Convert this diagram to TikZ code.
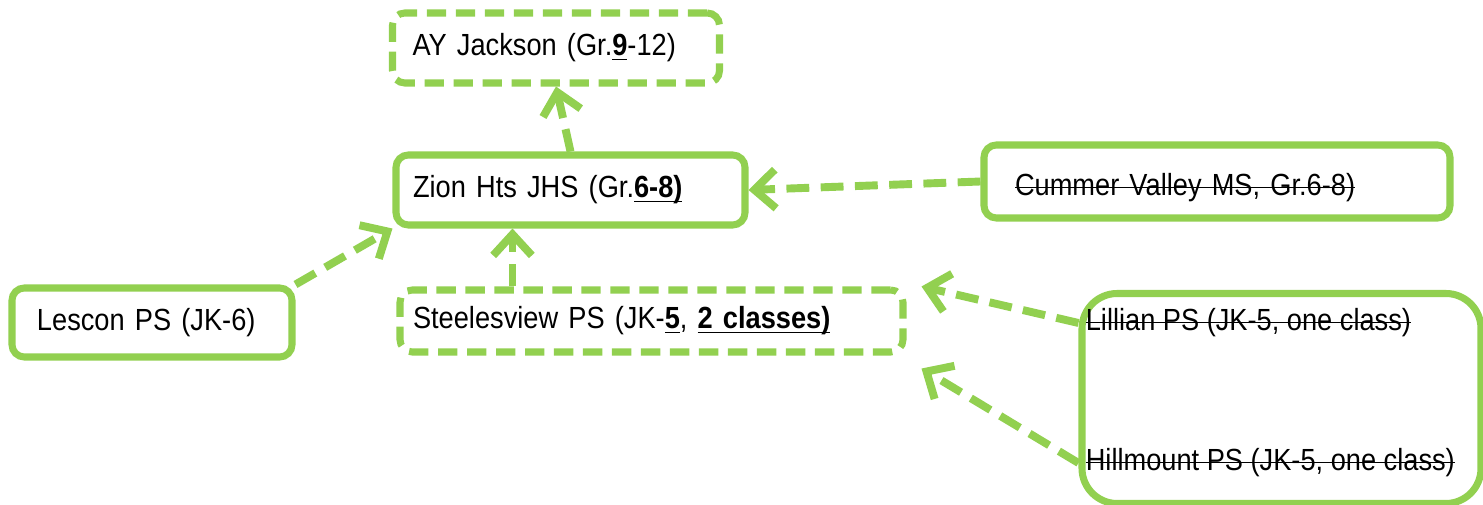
\documentclass[tikz,border=0pt]{standalone}
\usepackage{xcolor}
\usepackage{fontspec}
\setmainfont{Liberation Sans}[FakeStretch=0.89]
\usepackage{tikz}
\usetikzlibrary{positioning, arrows.meta}
\definecolor{leaf}{RGB}{146,208,80}
\newcommand{\crossout}[1]{\begingroup\setbox0=\hbox{#1}\rlap{\rule[0.5ex]{\wd0}{0.5pt}}\box0\endgroup}
\newcommand{\keyfig}[1]{\begingroup\setbox0=\hbox{\textbf{#1}}\rlap{\rule[-2.6pt]{\wd0}{1.1pt}}\box0\endgroup}

\begin{document}
\begin{tikzpicture}[font=\fontsize{17.4}{20}\selectfont,
        school/.style={draw=leaf, line width=4pt, rounded corners=7pt, align=left, inner ysep=0pt},
        planned/.style={school, dash pattern=on 11pt off 5.5pt},
        link/.style={draw=leaf, line width=4.5pt, dash pattern=on 13pt off 6.5pt,
          -{Straight Barb[length=12pt,width=22pt]}}]
  \useasboundingbox (0,0) rectangle (29.66,10.1);
  \node[planned, text width=5.74cm, inner xsep=0.4cm, minimum height=1.4cm] (ayj) at (11.12,9.14)
    {AY Jackson (Gr.\keyfig{9}-12)};
  \node[school, text width=6.3cm, inner xsep=0.34cm, minimum height=1.4cm] (zion) at (11.41,6.3)
    {Zion Hts JHS (Gr.\keyfig{6-8)}};
  \node[school, text width=8.08cm, inner xsep=0.62cm, minimum height=1.46cm,
        text height=20pt, text depth=4pt] (cummer) at (24.34,6.47)
    {\crossout{Cummer Valley MS, Gr.6-8)}};
  \node[school, text width=4.6cm, inner xsep=0.5cm, minimum height=1.38cm] (lescon) at (3.04,3.65)
    {Lescon PS (JK-6)};
  \node[planned, text width=9.54cm, inner xsep=0.26cm, minimum height=1.24cm] (steeles) at (13.03,3.68)
    {Steelesview PS (JK-\keyfig{5}, \keyfig{2 classes)}};
  \node[school, rounded corners=20pt, minimum width=7.98cm, minimum height=4.2cm] (grp) at (25.63,2.13) {};
  \node[anchor=west, inner sep=0pt] (lillian) at ([xshift=0.14cm, yshift=-0.66cm]grp.north west)
    {\crossout{Lillian PS (JK-5, one class)}};
  \node[anchor=west, inner sep=0pt] (hillmount) at ([xshift=0.14cm, yshift=-3.46cm]grp.north west)
    {\crossout{Hillmount PS (JK-5, one class)}};
  \path
    (zion.north) edge[link] (ayj.south)
    (cummer.west) edge[link] (zion.east)
    (lescon.north east) edge[link] (zion.south west)
    ([xshift=-2.78cm]steeles.north) edge[link] ([xshift=-2.78cm]steeles.north |- zion.south)
    (grp.west |- lillian) edge[link] ([xshift=0.3cm]steeles.north east)
    (grp.west |- hillmount) edge[link] ([shift={(0.3,-0.26)}]steeles.south east);
\end{tikzpicture}
\end{document}
